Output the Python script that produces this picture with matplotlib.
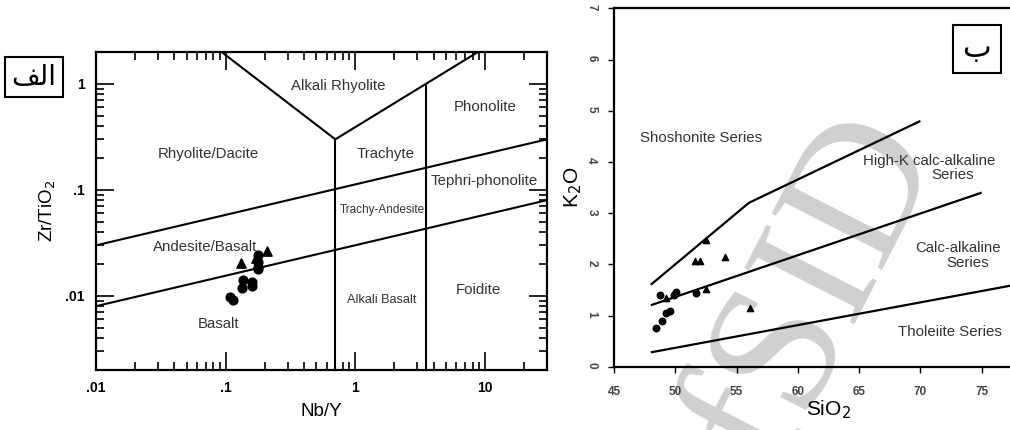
import matplotlib
matplotlib.use("Agg")
import matplotlib.pyplot as plt
from matplotlib.ticker import LogLocator, NullFormatter

plt.rcParams["font.family"] = ["Liberation Sans", "DejaVu Sans"]

# --- left diagram (Nb/Y vs Zr/TiO2) ---
upper_x = [0.01, 30]
upper_y = [0.03, 0.3]
lower_x = [0.01, 30]
lower_y = [0.008, 0.08]
vee_x = [0.093, 0.7, 8.8]
vee_y = [2, 0.3, 2]
sep1_x = [0.7, 0.7]
sep1_y = [0.002, 0.3]
sep2_x = [3.5, 3.5]
sep2_y = [0.002, 1.0]

circ_nby = [0.177, 0.177, 0.177, 0.176, 0.136, 0.134, 0.159, 0.159, 0.107, 0.114]
circ_zr = [0.0244, 0.0211, 0.0189, 0.0179, 0.0142, 0.0118, 0.0136, 0.0124, 0.0098, 0.0092]
tri_nby = [0.132, 0.209, 0.172]
tri_zr = [0.0206, 0.0266, 0.0228]

left_ticks = [0.01, 0.1, 1, 10]
left_xticklabels = [".01", ".1", "1", "10"]
left_yticks = [0.01, 0.1, 1]
left_yticklabels = [".01", ".1", "1"]

fields_left = ["Alkali Rhyolite", "Phonolite", "Rhyolite/Dacite", "Trachyte",
               "Tephri-phonolite", "Trachy-Andesite", "Andesite/Basalt",
               "Foidite", "Alkali Basalt", "Basalt"]
fields_left_pos = [(0.74, 0.95), (10.0, 0.61), (0.074, 0.22), (1.7, 0.22),
                   (9.8, 0.122), (1.6, 0.064), (0.07, 0.029),
                   (8.9, 0.0114), (1.6, 0.0092), (0.088, 0.0054)]
fields_left_size = [10.8, 10.8, 10.8, 10.8, 10.8, 8.5, 10.8, 10.8, 9.2, 10.8]

# --- right diagram (SiO2 vs K2O) ---
sho_x = [48, 56, 70]
sho_y = [1.6, 3.2, 4.8]
hik_x = [48, 75]
hik_y = [1.2, 3.4]
tho_x = [48, 80]
tho_y = [0.28, 1.70]

circ_si = [48.45, 48.94, 49.21, 49.54, 48.72, 49.87, 50.03, 51.72]
circ_k = [0.75, 0.89, 1.04, 1.09, 1.40, 1.40, 1.46, 1.43]
tri_si = [52.53, 51.62, 52.04, 54.03, 56.12, 52.53, 49.25]
tri_k = [2.48, 2.06, 2.06, 2.15, 1.14, 1.51, 1.35]

right_xticks = [45, 50, 55, 60, 65, 70, 75]
right_yticks = [0, 1, 2, 3, 4, 5, 6, 7]

fields_right = ["Shoshonite Series", "High-K calc-alkaline", "Series",
                "Calc-alkaline", "Series", "Tholeiite Series"]
fields_right_pos = [(52.1, 4.47), (70.7, 4.02), (72.65, 3.74),
                    (73.06, 2.31), (73.87, 2.03), (72.43, 0.67)]

txt_col = "#333333"

fig = plt.figure(figsize=(10.1, 4.3), dpi=100)

# watermark of the source page, behind everything
fig.text(0.808, 0.325, "fSID", rotation=63, fontsize=135, family="Liberation Serif",
         color="#d0d0d0", ha="center", va="center", zorder=-5)

ax = fig.add_axes([96 / 1010, (430 - 370) / 430, (547 - 96) / 1010, (370 - 52) / 430])
ax.patch.set_alpha(0)
ax.set_xscale("log")
ax.set_yscale("log")
ax.set_xlim(0.01, 30)
ax.set_ylim(0.002, 2)

for xs, ys in [(upper_x, upper_y), (lower_x, lower_y), (vee_x, vee_y),
               (sep1_x, sep1_y), (sep2_x, sep2_y)]:
    ax.plot(xs, ys, color="black", lw=1.5, solid_capstyle="butt")

ax.scatter(circ_nby, circ_zr, s=40, marker="o", color="black", zorder=3)
ax.scatter(tri_nby, tri_zr, s=45, marker="^", color="black", zorder=3)

for lab, (x, y), fs in zip(fields_left, fields_left_pos, fields_left_size):
    ax.text(x, y, lab, ha="center", va="center", fontsize=fs, color=txt_col)

ax.set_xticks(left_ticks, left_xticklabels)
ax.set_yticks(left_yticks, left_yticklabels)
ax.xaxis.set_minor_locator(LogLocator(base=10, subs=range(2, 10)))
ax.yaxis.set_minor_locator(LogLocator(base=10, subs=range(2, 10)))
ax.xaxis.set_minor_formatter(NullFormatter())
ax.yaxis.set_minor_formatter(NullFormatter())
ax.tick_params(which="both", direction="in", top=True, right=True, width=1.2)
ax.tick_params(which="major", length=13, labelsize=10, pad=8)
ax.tick_params(which="minor", length=6)
for t in ax.get_xticklabels() + ax.get_yticklabels():
    t.set_fontweight("bold")
for sp in ax.spines.values():
    sp.set_linewidth(1.6)
ax.set_xlabel("Nb/Y", fontsize=13.5, labelpad=6)
ax.set_ylabel("Zr/TiO$_2$", fontsize=13.5, labelpad=5)

fig.text(34 / 1010, 1 - 77 / 430, "\ufed2\ufedf\u0627", family="DejaVu Sans",
         fontsize=20, ha="center", va="center",
         bbox=dict(boxstyle="square,pad=0.22", fc="white", ec="black", lw=1.5))

# right panel: axis runs to SiO2 = 80, cut off by the image edge
ax2 = fig.add_axes([614 / 1010, (430 - 366.7) / 430, 429 / 1010, (366.7 - 8.3) / 430])
ax2.patch.set_alpha(0)
ax2.set_xlim(45, 80)
ax2.set_ylim(0, 7)

for xs, ys in [(sho_x, sho_y), (hik_x, hik_y), (tho_x, tho_y)]:
    ax2.plot(xs, ys, color="black", lw=1.6, solid_capstyle="butt")

ax2.scatter(circ_si, circ_k, s=22, marker="o", color="black", zorder=3)
ax2.scatter(tri_si, tri_k, s=20, marker="^", color="black", zorder=3)

for lab, (x, y) in zip(fields_right, fields_right_pos):
    ax2.text(x, y, lab, ha="center", va="center", fontsize=10.8, color=txt_col)

ax2.set_xticks(right_xticks)
ax2.set_yticks(right_yticks)
ax2.tick_params(direction="out", length=4, width=1.0, labelsize=8.5, pad=10,
                labelcolor="#444444")
ax2.tick_params(axis="y", labelrotation=-90, pad=8)
for t in ax2.get_xticklabels() + ax2.get_yticklabels():
    t.set_fontweight("bold")
for sp in ax2.spines.values():
    sp.set_linewidth(1.6)
ax2.set_xlabel("SiO$_2$", fontsize=15, labelpad=0)
ax2.set_ylabel("K$_2$O", fontsize=15, labelpad=1)

fig.text(977 / 1010, 1 - 49 / 430, "\u0628", family="DejaVu Sans",
         fontsize=22, ha="center", va="center",
         bbox=dict(boxstyle="square,pad=0.3", fc="white", ec="black", lw=1.5))

fig.savefig("out.png", dpi=100)
